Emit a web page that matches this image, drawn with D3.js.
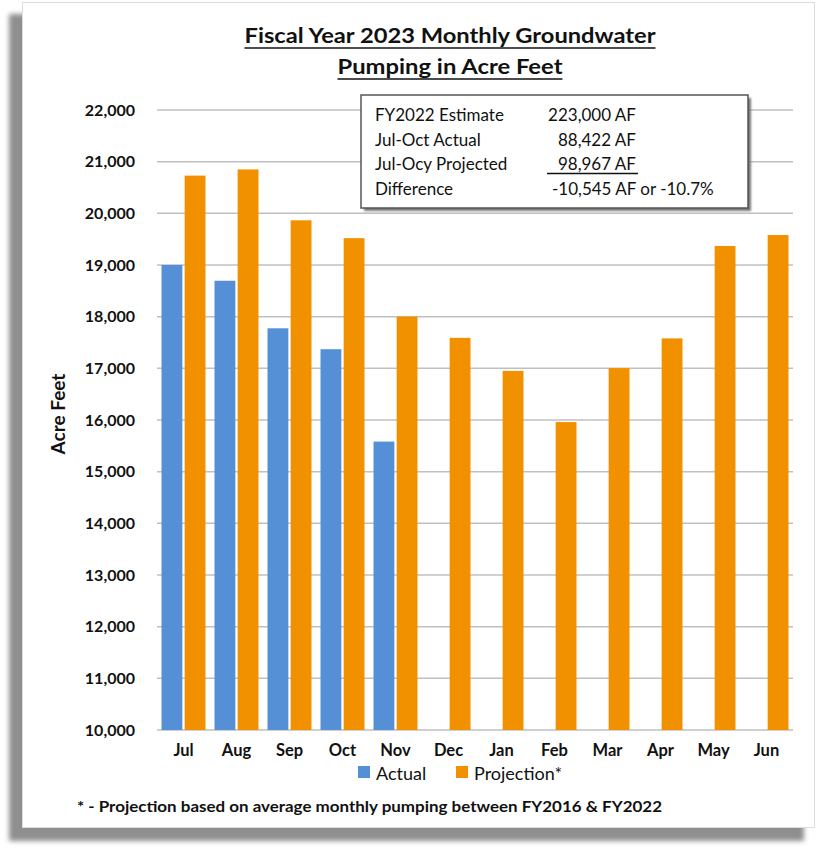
<!DOCTYPE html>
<html>
<head>
<meta charset="utf-8">
<script src="https://cdn.jsdelivr.net/npm/d3@7"></script>
<style>
    body { margin: 0; background: #fff; }
    text { font-family: Lato, "Open Sans", sans-serif; }
</style>
</head>
<body>
<div id="chart"></div>
<script>
'use strict'

// データ
const MONTHS = ['Jul', 'Aug', 'Sep', 'Oct', 'Nov', 'Dec', 'Jan', 'Feb', 'Mar', 'Apr', 'May', 'Jun'];
const ACTUAL = [19000, 18695, 17775, 17370, 15582, null, null, null, null, null, null, null];
const PROJECTION = [20730, 20850, 19865, 19520, 18002, 17590, 16950, 15960, 17005, 17580, 19368, 19580];
const SERIES = ['Actual', 'Projection*'];
const Y_TICKS = [10000, 11000, 12000, 13000, 14000, 15000, 16000, 17000, 18000, 19000, 20000, 21000, 22000];
const NOTE_LABELS = ['FY2022 Estimate', 'Jul-Oct Actual', 'Jul-Ocy Projected', 'Difference'];
const NOTE_VALUES = ['223,000 AF', '88,422 AF', '98,967 AF', '-10,545 AF or -10.7%'];

// SVG全体
const SVG_WIDTH = 818;
const SVG_HEIGHT = 850;
const COLORS = ['#5590D6', '#F29100'];

// プロット領域
const PLOT = {left: 157, right: 793, top: 110, bottom: 730};

const svg = d3.select('#chart')
    .append('svg')
    .attr('width', SVG_WIDTH)
    .attr('height', SVG_HEIGHT)
;

// 影とパネル
const defs = svg.append('defs');
defs.append('filter')
    .attr('id', 'blur')
    .attr('x', '-5%').attr('y', '-5%').attr('width', '110%').attr('height', '110%')
    .append('feGaussianBlur')
    .attr('stdDeviation', 2.5)
;
defs.append('filter')
    .attr('id', 'blur_small')
    .append('feGaussianBlur')
    .attr('stdDeviation', 1.2)
;

svg.append('rect')
    .attr('x', 9).attr('y', 14)
    .attr('width', 795).attr('height', 827)
    .attr('fill', '#8f8f8f')
    .attr('filter', 'url(#blur)')
;
svg.append('rect')
    .attr('x', 22.5).attr('y', 2.5)
    .attr('width', 792).attr('height', 825)
    .attr('fill', '#fff')
    .attr('stroke', '#dcdcdc')
    .attr('stroke-width', 1)
;

// スケール
const x = d3.scaleBand()
    .domain(MONTHS)
    .range([PLOT.left, PLOT.right])
    .paddingInner(0.17)
    .paddingOuter(0.085)
;
const x_sub = d3.scaleBand()
    .domain(SERIES)
    .range([0, x.bandwidth()])
    .paddingInner(0.1)
;
const y = d3.scaleLinear()
    .domain([10000, 22000])
    .range([PLOT.bottom, PLOT.top])
;

// グリッド線
const grid_g = svg.append('g')
    .attr('stroke', '#c0c0c0')
    .attr('stroke-width', 1.5)
;
Y_TICKS.forEach(function(v) {
    grid_g.append('line')
        .attr('x1', PLOT.left)
        .attr('x2', PLOT.right)
        .attr('y1', y(v))
        .attr('y2', y(v))
    ;
});

// Y軸
const y_axis = svg.append('g')
    .attr('transform', 'translate(' + (PLOT.left - 22) + ',0)')
    .call(d3.axisLeft(y).tickValues(Y_TICKS).tickFormat(d3.format(',')).tickSize(0).tickPadding(0))
;
y_axis.select('.domain').remove();
y_axis.selectAll('text')
    .attr('font-family', 'Lato, sans-serif')
    .attr('font-size', 16)
    .attr('font-weight', 'bold')
    .attr('fill', '#111')
;

// X軸
const x_axis = svg.append('g')
    .attr('transform', 'translate(0,' + PLOT.bottom + ')')
    .call(d3.axisBottom(x).tickSize(0).tickPadding(14))
;
x_axis.select('.domain').remove();
x_axis.selectAll('text')
    .attr('font-family', 'Lato, sans-serif')
    .attr('font-size', 16.5)
    .attr('font-weight', 'bold')
    .attr('fill', '#111')
;

// 棒
const bars_g = svg.append('g');
const rows = MONTHS.map(function(m, i) {
    return {month: m, values: [ACTUAL[i], PROJECTION[i]]};
});
rows.forEach(function(r) {
    r.values.forEach(function(v, j) {
        if (v === null) { return; }
        bars_g.append('rect')
            .attr('x', x(r.month) + x_sub(SERIES[j]))
            .attr('y', y(v))
            .attr('width', x_sub.bandwidth())
            .attr('height', y(10000) - y(v))
            .attr('fill', COLORS[j])
        ;
    });
});

// Y軸ラベル
svg.append('text')
    .text('Acre Feet')
    .attr('transform', 'translate(65,414) rotate(-90)')
    .attr('text-anchor', 'middle')
    .attr('font-size', 19)
    .attr('font-weight', 'bold')
    .attr('fill', '#111')
;

// タイトル
const title_lines = ['Fiscal Year 2023 Monthly Groundwater', 'Pumping in Acre Feet'];
const title_widths = [411, 225];
title_lines.forEach(function(t, i) {
    const base = 43 + i * 31;
    svg.append('text')
        .text(t)
        .attr('x', 450)
        .attr('y', base)
        .attr('text-anchor', 'middle')
        .attr('font-size', 21)
        .attr('font-weight', 'bold')
        .attr('fill', '#111')
        .attr('textLength', title_widths[i])
        .attr('lengthAdjust', 'spacingAndGlyphs')
    ;
    svg.append('line')
        .attr('x1', 450 - title_widths[i] / 2)
        .attr('x2', 450 + title_widths[i] / 2)
        .attr('y1', base + 5)
        .attr('y2', base + 5)
        .attr('stroke', '#111')
        .attr('stroke-width', 1.6)
    ;
});

// 注記ボックス
const box = {x: 361, y: 95, w: 387, h: 113};
svg.append('rect')
    .attr('x', box.x + 3).attr('y', box.y + 3)
    .attr('width', box.w).attr('height', box.h)
    .attr('fill', '#777')
    .attr('filter', 'url(#blur_small)')
;
svg.append('rect')
    .attr('x', box.x).attr('y', box.y)
    .attr('width', box.w).attr('height', box.h)
    .attr('fill', '#fff')
    .attr('stroke', '#555')
    .attr('stroke-width', 1.5)
;
const note_g = svg.append('g')
    .attr('font-size', 17)
    .attr('fill', '#111')
;
NOTE_LABELS.forEach(function(t, i) {
    const base = 121 + i * 24.5;
    note_g.append('text')
        .text(t)
        .attr('x', 375)
        .attr('y', base)
    ;
    const v = note_g.append('text')
        .text(NOTE_VALUES[i])
        .attr('y', base)
    ;
    if (i === 3) {
        v.attr('x', 552);
    } else {
        v.attr('x', 636).attr('text-anchor', 'end');
    }
});
note_g.append('line')
    .attr('x1', 547).attr('x2', 638)
    .attr('y1', 173.5).attr('y2', 173.5)
    .attr('stroke', '#111')
    .attr('stroke-width', 1.5)
;

// 凡例
const legend_x = [358, 456];
SERIES.forEach(function(s, i) {
    svg.append('rect')
        .attr('x', legend_x[i])
        .attr('y', 766)
        .attr('width', 12)
        .attr('height', 12)
        .attr('fill', COLORS[i])
    ;
    svg.append('text')
        .text(s)
        .attr('x', legend_x[i] + 18)
        .attr('y', 780)
        .attr('font-size', 18)
        .attr('fill', '#111')
    ;
});

// 脚注
svg.append('text')
    .text('* - Projection based on average monthly pumping between FY2016 & FY2022')
    .attr('x', 77)
    .attr('y', 812)
    .attr('font-size', 15.5)
    .attr('font-weight', 'bold')
    .attr('fill', '#111')
    .attr('textLength', 585)
    .attr('lengthAdjust', 'spacingAndGlyphs')
;
</script>
</body>
</html>
